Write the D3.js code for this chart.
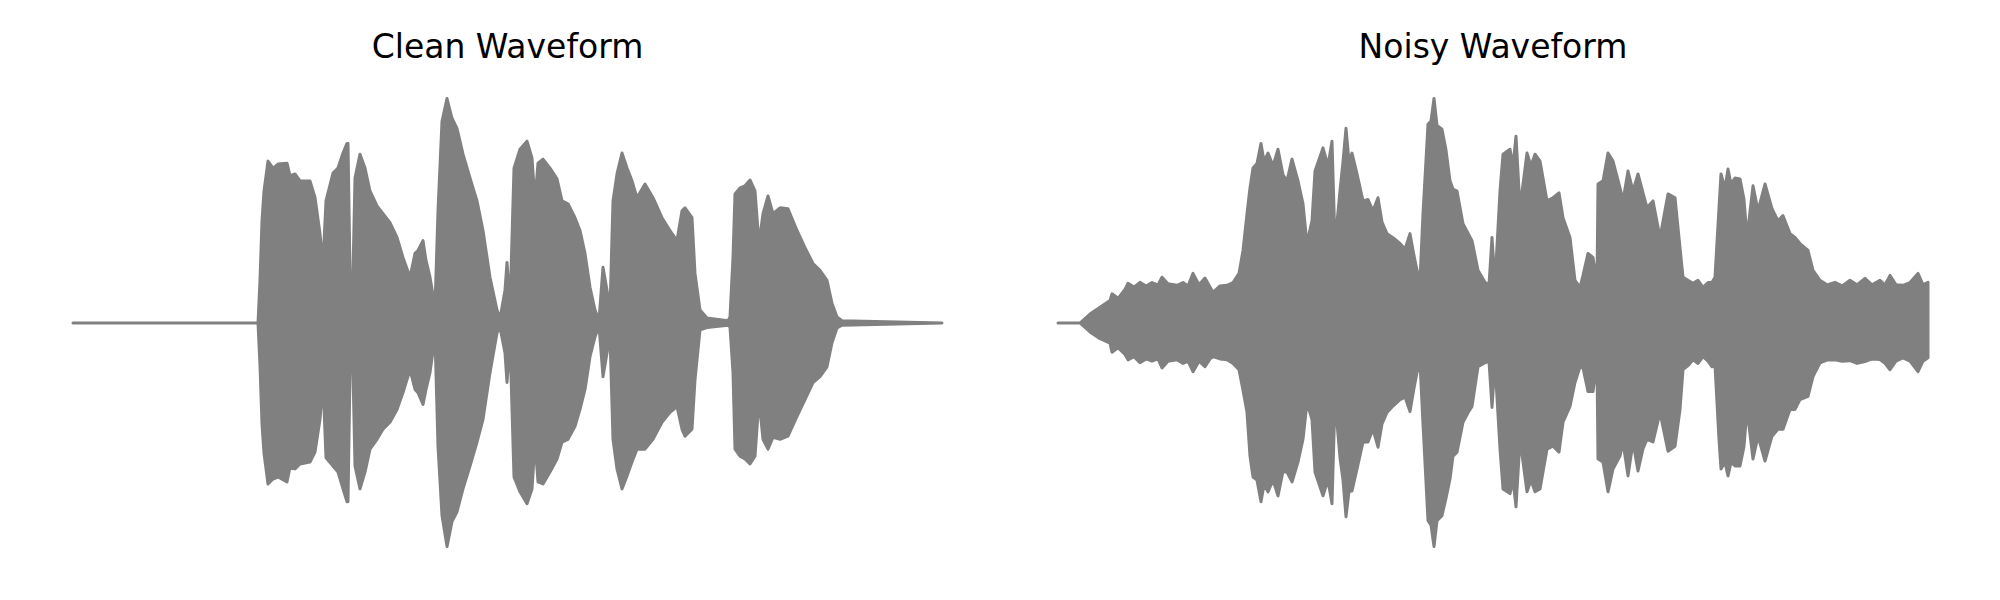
<!DOCTYPE html>
<html>
<head>
<meta charset="utf-8">
<script src="https://cdn.jsdelivr.net/npm/d3@7"></script>
<style>
  html, body { margin: 0; padding: 0; background: #ffffff; }
  svg { display: block; }
</style>
</head>
<body>
<script>
// ---- data (envelope of each waveform: [time (s), max amplitude, min amplitude]) ----
const titles = ["Clean Waveform", "Noisy Waveform"];

const cleanEnvelope = [
  [0.00,0,0],[1.85,0,0],[1.87,0.19,-0.19],[1.89,0.456,-0.45],[1.91,0.588,-0.58],[1.95,0.721,-0.717],
  [2.00,0.69,-0.695],[2.05,0.708,-0.686],[2.14,0.712,-0.708],[2.17,0.655,-0.642],[2.22,0.664,-0.65],
  [2.27,0.633,-0.628],[2.37,0.633,-0.619],[2.42,0.559,-0.575],[2.47,0.398,-0.429],[2.50,0.265,-0.265],
  [2.53,0.544,-0.60],[2.60,0.668,-0.637],[2.65,0.69,-0.664],[2.70,0.757,-0.739],[2.74,0.80,-0.796],
  [2.75,0.80,-0.796],[2.77,0.226,-0.221],[2.80,0.226,-0.221],[2.82,0.646,-0.637],[2.87,0.752,-0.739],
  [2.92,0.69,-0.664],[2.97,0.588,-0.562],[3.04,0.522,-0.518],[3.10,0.487,-0.473],[3.17,0.447,-0.442],
  [3.24,0.381,-0.385],[3.30,0.292,-0.31],[3.37,0.204,-0.208],[3.42,0.31,-0.296],[3.45,0.323,-0.31],
  [3.50,0.367,-0.363],[3.53,0.279,-0.296],[3.57,0.204,-0.221],[3.62,0.071,-0.062],[3.65,0.50,-0.55],
  [3.69,0.898,-0.858],[3.74,1.0,-0.996],[3.79,0.912,-0.885],[3.84,0.867,-0.841],[3.90,0.752,-0.739],
  [3.97,0.646,-0.637],[4.04,0.544,-0.531],[4.10,0.412,-0.429],[4.17,0.204,-0.221],[4.24,0.058,-0.044],
  [4.27,0.02,-0.02],[4.32,0.146,-0.133],[4.34,0.27,-0.265],[4.37,0.071,-0.08],[4.41,0.69,-0.686],
  [4.47,0.774,-0.752],[4.54,0.81,-0.805],[4.59,0.735,-0.739],[4.62,0.544,-0.531],[4.65,0.712,-0.708],
  [4.70,0.73,-0.717],[4.77,0.69,-0.664],[4.84,0.642,-0.606],[4.89,0.544,-0.531],[4.95,0.531,-0.518],
  [5.02,0.469,-0.46],[5.07,0.412,-0.385],[5.12,0.31,-0.296],[5.17,0.159,-0.15],[5.22,0.058,-0.062],
  [5.26,0.013,-0.013],[5.30,0.248,-0.239],[5.34,0.146,-0.133],[5.37,0.058,-0.06],[5.40,0.544,-0.518],
  [5.44,0.664,-0.65],[5.49,0.757,-0.739],[5.54,0.69,-0.681],[5.59,0.633,-0.619],[5.64,0.558,-0.562],
  [5.72,0.619,-0.562],[5.80,0.558,-0.518],[5.89,0.469,-0.442],[5.97,0.412,-0.398],[6.04,0.367,-0.372],
  [6.09,0.5,-0.473],[6.12,0.513,-0.504],[6.19,0.469,-0.473],[6.22,0.221,-0.252],[6.27,0.058,-0.031],
  [6.34,0.022,-0.02],[6.55,0.01,-0.01],[6.57,0.027,-0.018],[6.60,0.292,-0.221],[6.62,0.575,-0.562],
  [6.67,0.602,-0.593],[6.72,0.611,-0.606],[6.77,0.637,-0.628],[6.82,0.588,-0.593],[6.86,0.354,-0.341],
  [6.90,0.487,-0.518],[6.95,0.566,-0.562],[7.00,0.487,-0.509],[7.07,0.513,-0.518],[7.15,0.509,-0.504],
  [7.24,0.412,-0.416],[7.32,0.336,-0.341],[7.40,0.265,-0.265],[7.47,0.235,-0.239],[7.54,0.19,-0.195],
  [7.59,0.088,-0.088],[7.64,0.027,-0.022],[7.69,0.01,-0.01],[8.69,0,0]
];

const noisyEnvelope = [
  [0.00,0,0],[0.22,0,0],[0.32,0.04,-0.04],[0.42,0.07,-0.07],[0.52,0.10,-0.09],[0.54,0.13,-0.13],
  [0.60,0.11,-0.11],[0.67,0.15,-0.14],[0.70,0.177,-0.164],[0.76,0.16,-0.15],[0.82,0.181,-0.177],
  [0.88,0.165,-0.16],[0.94,0.18,-0.17],[1.00,0.17,-0.16],[1.04,0.204,-0.2],[1.10,0.175,-0.17],
  [1.19,0.168,-0.164],[1.25,0.18,-0.18],[1.30,0.165,-0.17],[1.35,0.221,-0.217],[1.41,0.17,-0.17],
  [1.47,0.2,-0.195],[1.52,0.16,-0.16],[1.55,0.137,-0.15],[1.62,0.165,-0.16],[1.69,0.168,-0.164],
  [1.75,0.18,-0.18],[1.81,0.221,-0.208],[1.85,0.323,-0.30],[1.89,0.487,-0.398],[1.92,0.602,-0.593],
  [1.95,0.69,-0.686],[1.99,0.71,-0.70],[2.03,0.80,-0.796],[2.06,0.72,-0.72],[2.10,0.757,-0.752],
  [2.15,0.70,-0.70],[2.20,0.774,-0.77],[2.25,0.66,-0.66],[2.29,0.633,-0.664],[2.34,0.73,-0.708],
  [2.40,0.633,-0.619],[2.45,0.531,-0.518],[2.49,0.354,-0.354],[2.54,0.456,-0.43],[2.57,0.677,-0.664],
  [2.65,0.78,-0.77],[2.70,0.70,-0.70],[2.74,0.81,-0.805],[2.77,0.354,-0.341],[2.82,0.588,-0.60],
  [2.85,0.72,-0.70],[2.88,0.867,-0.863],[2.91,0.72,-0.75],[2.94,0.757,-0.748],[2.99,0.664,-0.65],
  [3.05,0.544,-0.531],[3.10,0.55,-0.53],[3.15,0.50,-0.473],[3.20,0.558,-0.553],[3.24,0.45,-0.45],
  [3.29,0.398,-0.398],[3.35,0.38,-0.37],[3.42,0.354,-0.341],[3.47,0.33,-0.33],[3.52,0.398,-0.394],
  [3.56,0.30,-0.29],[3.59,0.235,-0.22],[3.62,0.19,-0.177],[3.65,0.487,-0.45],[3.70,0.885,-0.88],
  [3.73,0.90,-0.90],[3.76,1.0,-0.996],[3.79,0.88,-0.88],[3.84,0.863,-0.858],[3.88,0.77,-0.78],
  [3.92,0.633,-0.695],[3.95,0.597,-0.593],[3.99,0.588,-0.575],[4.05,0.442,-0.442],[4.10,0.40,-0.40],
  [4.14,0.367,-0.372],[4.20,0.235,-0.195],[4.27,0.181,-0.177],[4.31,0.17,-0.17],[4.34,0.381,-0.376],
  [4.37,0.177,-0.177],[4.42,0.588,-0.562],[4.45,0.752,-0.739],[4.52,0.774,-0.76],[4.55,0.70,-0.70],
  [4.58,0.832,-0.819],[4.62,0.513,-0.518],[4.69,0.757,-0.752],[4.73,0.70,-0.70],[4.77,0.752,-0.752],
  [4.82,0.721,-0.739],[4.89,0.544,-0.562],[4.95,0.558,-0.549],[5.01,0.58,-0.575],[5.05,0.469,-0.442],
  [5.12,0.381,-0.372],[5.17,0.19,-0.265],[5.22,0.159,-0.195],[5.25,0.212,-0.2],[5.30,0.31,-0.305],
  [5.35,0.292,-0.305],[5.39,0.177,-0.18],[5.40,0.619,-0.606],[5.45,0.633,-0.619],[5.50,0.757,-0.752],
  [5.55,0.721,-0.65],[5.62,0.602,-0.593],[5.65,0.544,-0.531],[5.70,0.677,-0.681],[5.75,0.588,-0.531],
  [5.80,0.664,-0.659],[5.85,0.58,-0.56],[5.89,0.513,-0.518],[5.95,0.544,-0.53],[6.02,0.381,-0.398],
  [6.10,0.575,-0.571],[6.17,0.558,-0.549],[6.22,0.336,-0.385],[6.25,0.204,-0.208],[6.30,0.19,-0.19],
  [6.35,0.177,-0.164],[6.40,0.19,-0.18],[6.45,0.159,-0.15],[6.50,0.18,-0.17],[6.54,0.181,-0.195],
  [6.57,0.204,-0.19],[6.61,0.513,-0.518],[6.63,0.664,-0.65],[6.67,0.60,-0.62],[6.70,0.686,-0.681],
  [6.73,0.62,-0.62],[6.77,0.646,-0.637],[6.82,0.642,-0.637],[6.86,0.55,-0.55],[6.89,0.381,-0.385],
  [6.95,0.611,-0.606],[7.00,0.5,-0.504],[7.07,0.619,-0.615],[7.14,0.509,-0.504],[7.20,0.456,-0.473],
  [7.25,0.478,-0.473],[7.32,0.398,-0.385],[7.37,0.381,-0.385],[7.42,0.354,-0.341],[7.50,0.323,-0.327],
  [7.55,0.235,-0.239],[7.62,0.19,-0.177],[7.69,0.17,-0.165],[7.77,0.181,-0.164],[7.84,0.165,-0.17],
  [7.92,0.19,-0.168],[7.99,0.17,-0.18],[8.07,0.199,-0.172],[8.14,0.17,-0.16],[8.22,0.19,-0.163],
  [8.27,0.17,-0.18],[8.32,0.212,-0.208],[8.38,0.17,-0.17],[8.45,0.168,-0.155],[8.52,0.18,-0.17],
  [8.60,0.221,-0.217],[8.65,0.17,-0.17],[8.70,0.181,-0.155]
];

// ---- drawing ----
const W = 2000, H = 600;
const lineColor = "#808080";

const svg = d3.select("body").append("svg")
  .attr("width", W).attr("height", H)
  .style("background", "#ffffff");

const yScale = d3.scaleLinear().domain([-1, 1]).range([547.5, 98.5]);

const panels = [
  { title: titles[0], data: cleanEnvelope, range: [73, 942] },
  { title: titles[1], data: noisyEnvelope, range: [1058, 1928] }
];

panels.forEach(p => {
  const xScale = d3.scaleLinear()
    .domain([0, d3.max(p.data, d => d[0])])
    .range(p.range);

  const area = d3.area()
    .x(d => xScale(d[0]))
    .y0(d => yScale(d[2]))
    .y1(d => yScale(d[1]))
    .curve(d3.curveLinear);

  const g = svg.append("g");

  g.append("path")
    .datum(p.data)
    .attr("d", area)
    .attr("fill", lineColor)
    .attr("stroke", lineColor)
    .attr("stroke-width", 3)
    .attr("stroke-linejoin", "round")
    .attr("stroke-linecap", "round");

  g.append("text")
    .attr("x", (p.range[0] + p.range[1]) / 2)
    .attr("y", 57.5)
    .attr("text-anchor", "middle")
    .attr("font-family", "'DejaVu Sans', sans-serif")
    .attr("font-size", "33px")
    .attr("fill", "#000000")
    .text(p.title);
});
</script>
</body>
</html>
